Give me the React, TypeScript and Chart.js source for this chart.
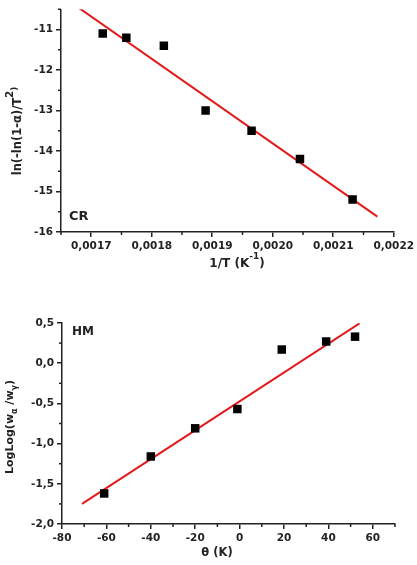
import React, { useEffect, useRef } from "react";
import { Chart, registerables } from "chart.js";
Chart.register(...registerables);

// ---- CR panel data ----
const crInvT = [0.001719, 0.001758, 0.00182, 0.001889, 0.001965, 0.002045, 0.002132];
const crLnVal = [-11.1, -11.2, -11.4, -13.0, -13.5, -14.2, -15.2];
const crFitInvT = [0.00168, 0.002173];
const crFitLn = [-10.47, -15.62];
const crXTicks = [0.0017, 0.0018, 0.0019, 0.002, 0.0021, 0.0022];
const crYTicks = [-16, -15, -14, -13, -12, -11];

// ---- HM panel data ----
const hmTheta = [-61, -40, -20, -1, 19, 39, 52];
const hmLogLog = [-1.62, -1.16, -0.81, -0.57, 0.17, 0.27, 0.33];
const hmFitTheta = [-71, 54];
const hmFitLogLog = [-1.75, 0.495];
const hmXTicks = [-80, -60, -40, -20, 0, 20, 40, 60];
const hmYTicks = [-2, -1.5, -1, -0.5, 0, 0.5];

const FONT = '"DejaVu Sans", "Liberation Sans", sans-serif';
const INK = "#222";

type Run = { t: string; s?: number; dy?: number };

function drawRuns(ctx: CanvasRenderingContext2D, runs: Run[], cx: number, cy: number, rot: boolean, base = 12) {
  ctx.save();
  ctx.translate(cx, cy);
  if (rot) ctx.rotate(-Math.PI / 2);
  const fontOf = (r: Run) => `bold ${r.s ?? base}px ${FONT}`;
  let total = 0;
  for (const r of runs) {
    ctx.font = fontOf(r);
    total += ctx.measureText(r.t).width;
  }
  let x = -total / 2;
  ctx.textBaseline = "middle";
  ctx.textAlign = "left";
  ctx.fillStyle = INK;
  for (const r of runs) {
    ctx.font = fontOf(r);
    ctx.fillText(r.t, x, r.dy ?? 0);
    x += ctx.measureText(r.t).width;
  }
  ctx.restore();
}

function minorTicks(chart: any) {
  const { ctx, chartArea } = chart;
  ctx.save();
  ctx.strokeStyle = INK;
  ctx.lineWidth = 1.5;
  for (const id of ["x", "y"]) {
    const sc = chart.scales[id];
    const vals = sc.ticks.map((t: any) => t.value);
    const step = vals[1] - vals[0];
    const eps = Math.abs(step) * 1e-6;
    for (let k = -3; k < vals.length + 3; k++) {
      const v = vals[0] + (k + 0.5) * step;
      if (v < sc.min - eps || v > sc.max + eps) continue;
      const p = sc.getPixelForValue(v);
      ctx.beginPath();
      if (id === "x") {
        ctx.moveTo(p, chartArea.bottom);
        ctx.lineTo(p, chartArea.bottom + 3);
      } else {
        ctx.moveTo(chartArea.left - 3, p);
        ctx.lineTo(chartArea.left, p);
      }
      ctx.stroke();
    }
  }
  ctx.restore();
}

const axis = (min: number, max: number, ticks: number[], fmt: (v: number) => string, fit: (s: any) => void) => ({
  type: "linear" as const,
  min,
  max,
  afterBuildTicks: (s: any) => {
    s.ticks = ticks.map((value) => ({ value }));
  },
  afterFit: fit,
  ticks: {
    callback: (v: any) => fmt(Number(v)),
    font: { family: FONT, size: 10.5, weight: "bold" as const },
    color: INK,
    padding: 3,
    maxRotation: 0,
    autoSkip: false,
  },
  grid: { drawOnChartArea: false, drawTicks: true, tickLength: 5, color: INK, lineWidth: 1.5 },
  border: { display: true, color: INK, width: 1.5 },
});

function makeChart(canvas: HTMLCanvasElement, o: any) {
  return new Chart(canvas, {
    type: "scatter",
    data: {
      datasets: [
        {
          data: o.pts,
          pointStyle: "rect",
          pointRadius: 6,
          pointHoverRadius: 6,
          backgroundColor: "#000",
          borderColor: "#000",
          borderWidth: 0,
          showLine: false,
          order: 0,
        },
        {
          data: o.fit,
          showLine: true,
          borderColor: "#e3191c",
          borderWidth: 2,
          pointRadius: 0,
          order: 1,
        },
      ],
    } as any,
    options: {
      animation: false,
      responsive: false,
      events: [],
      layout: { padding: o.pad },
      plugins: { legend: { display: false }, tooltip: { enabled: false } },
      scales: { x: o.x, y: o.y } as any,
    },
    plugins: [
      {
        id: "deco",
        afterDraw: (c: any) => {
          minorTicks(c);
          o.deco(c.ctx);
        },
      },
    ],
  });
}

export default function App() {
  const topRef = useRef<HTMLCanvasElement>(null);
  const botRef = useRef<HTMLCanvasElement>(null);

  useEffect(() => {
    const c1 = makeChart(topRef.current!, {
      pts: crInvT.map((x, i) => ({ x, y: crLnVal[i] })),
      fit: crFitInvT.map((x, i) => ({ x, y: crFitLn[i] })),
      pad: { left: 0, top: 8, right: 23, bottom: 0 },
      x: axis(0.00165, 0.0022, crXTicks, (v) => v.toFixed(4).replace(".", ","), (s: any) => { s.height = 53; }),
      y: axis(-16, -10.5, crYTicks, (v) => String(Math.round(v)), (s: any) => { s.width = 61; }),
      deco: (ctx: CanvasRenderingContext2D) => {
        drawRuns(ctx, [{ t: "ln(-ln(1-α)/T", s: 11.5 }, { t: "2", s: 10, dy: -8 }, { t: ")", s: 9, dy: -3 }], 18, 131, true);
        drawRuns(ctx, [{ t: "1/T (K" }, { t: "-1", s: 9, dy: -7 }, { t: ")" }], 237, 264, false);
        ctx.save();
        ctx.font = `bold 13px ${FONT}`;
        ctx.fillStyle = INK;
        ctx.textBaseline = "middle";
        ctx.fillText("CR", 69, 217);
        ctx.restore();
      },
    });
    const c2 = makeChart(botRef.current!, {
      pts: hmTheta.map((x, i) => ({ x, y: hmLogLog[i] })),
      fit: hmFitTheta.map((x, i) => ({ x, y: hmFitLogLog[i] })),
      pad: { left: 0, top: 23, right: 22, bottom: 0 },
      x: axis(-80, 70, hmXTicks, (v) => String(Math.round(v)), (s: any) => { s.height = 41; }),
      y: axis(-2, 0.5, hmYTicks, (v) => v.toFixed(1).replace(".", ","), (s: any) => { s.width = 62; }),
      deco: (ctx: CanvasRenderingContext2D) => {
        drawRuns(ctx, [{ t: "LogLog(w" }, { t: "α", s: 8, dy: 5 }, { t: " /w" }, { t: "γ", s: 8, dy: 5 }, { t: ")" }], 10, 127, true, 11);
        drawRuns(ctx, [{ t: "θ (K)" }], 217, 253, false, 11.5);
        ctx.save();
        ctx.font = `bold 12px ${FONT}`;
        ctx.fillStyle = INK;
        ctx.textBaseline = "middle";
        ctx.fillText("HM", 72, 32);
        ctx.restore();
      },
    });
    return () => {
      c1.destroy();
      c2.destroy();
    };
  }, []);

  return (
    <div style={{ position: "absolute", left: 0, top: 0, width: 417, height: 565, background: "#fff", overflow: "hidden" }}>
      <canvas ref={topRef} width={417} height={285} style={{ position: "absolute", left: 0, top: 0 }} />
      <canvas ref={botRef} width={417} height={265} style={{ position: "absolute", left: 0, top: 300 }} />
    </div>
  );
}
